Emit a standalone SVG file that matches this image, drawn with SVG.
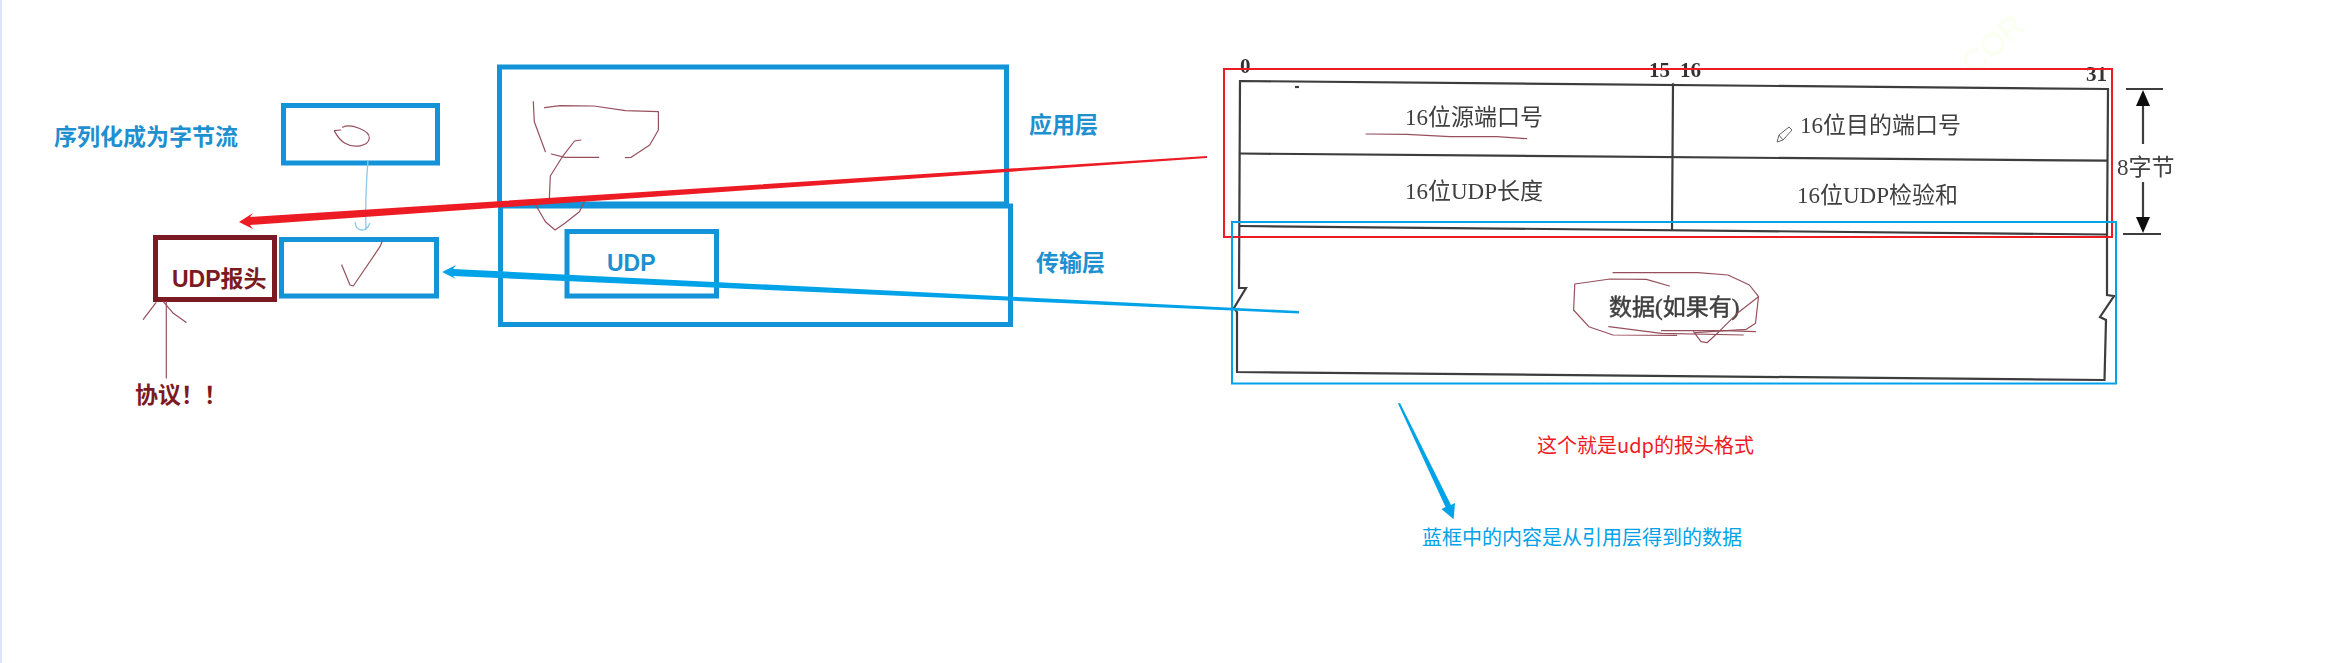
<svg xmlns="http://www.w3.org/2000/svg" width="2337" height="663" viewBox="0 0 2337 663">
<style>
.box{fill:none;stroke:#1394d8;stroke-width:5}
.bl{fill:#1e90d0;font:bold 23px "Liberation Sans","Noto Sans CJK SC",sans-serif}
.dr{fill:#7b1a22;font:bold 23px "Liberation Sans","Noto Sans CJK SC",sans-serif}
.ink{fill:none;stroke:#96505c;stroke-width:1.2;stroke-linejoin:round;stroke-linecap:round}
.scan{fill:none;stroke:#3c3c3c;stroke-width:2.2}
.st{fill:#3f3f3f;font:23px "Liberation Serif","Noto Sans CJK SC",serif}
.sb{fill:#333;font:bold 21px "Liberation Serif",serif}
.note{font:20px "Noto Sans CJK SC",sans-serif}
</style>
<defs><filter id="soft" x="-5%" y="-5%" width="110%" height="110%"><feGaussianBlur stdDeviation="0.5"/></filter></defs>
<rect width="2337" height="663" fill="#ffffff"/>
<rect width="2" height="663" fill="#dfe6f5"/>
<text x="1974" y="76" transform="rotate(-42 1974 76)" font-family="Liberation Sans,sans-serif" font-size="32" fill="#fbfff0">COR</text>

<g id="scan-table" filter="url(#soft)">
<path class="scan" d="M1240,81 L2108,89 L2107,237 L2107,295 L2114,296 L2100,317 L2106,320 L2104.5,380 L1237,372 L1237,312 L1234,308 L1246,288 L1239,288 Z"/>
<path class="scan" d="M1240,153.5 L2107,160.7 M1239,226 L2107,234.5 M1673,83.3 L1672,230"/>
<path class="scan" d="M1295,87 h4"/>
<text class="sb" x="1240" y="73">0</text>
<text class="sb" x="1649" y="77">15</text>
<text class="sb" x="1680" y="77">16</text>
<text class="sb" x="2086" y="81">31</text>
<text class="st" x="1405" y="125">16位源端口号</text>
<text class="st" x="1800" y="133">16位目的端口号</text>
<text class="st" x="1405" y="199">16位UDP长度</text>
<text class="st" x="1797" y="203">16位UDP检验和</text>
<text class="st" x="1609" y="315" stroke="#3f3f3f" stroke-width="0.5">数据(如果有)</text>
<text class="st" x="2117" y="175" font-size="22">8字节</text>
<path class="scan" d="M2126,89 H2163 M2143,106 V144 M2143,182 V217 M2123,234 H2161"/>
<path d="M2143,90 L2150,106 H2136 Z M2143,233 L2150,217 H2136 Z" fill="#111"/>
<path d="M1777,142 L1779,135 L1789,127 L1792,130 L1783,140 Z M1779,135 L1783,140" fill="none" stroke="#666" stroke-width="1"/>
</g>

<g id="node-app-layer">
<rect class="box" x="499.5" y="67" width="507" height="137"/>
<text class="bl" x="1029" y="133">应用层</text>
</g>
<g id="node-transport-layer">
<rect class="box" x="500.5" y="206" width="510" height="118.5"/>
<text class="bl" x="1036" y="271">传输层</text>
</g>
<g id="node-udp">
<rect class="box" x="567" y="231.5" width="149.5" height="64.5" stroke-width="4"/>
<text class="bl" x="607" y="271" font-size="24">UDP</text>
</g>
<g id="node-serial-label">
<text class="bl" x="54" y="145">序列化成为字节流</text>
</g>
<g id="node-data-top">
<rect class="box" x="283.5" y="105.5" width="154" height="57.5"/>
</g>
<g id="node-data-bottom">
<rect class="box" x="281.5" y="239.5" width="155" height="56.5"/>
</g>
<g id="node-udp-header">
<rect x="155.5" y="237.5" width="119" height="62" fill="none" stroke="#7b1a22" stroke-width="5"/>
<text class="dr" x="172" y="287">UDP报头</text>
</g>
<g id="node-protocol">
<text class="dr" x="135" y="403" font-size="22">协议！！</text>
</g>
<g id="node-red-frame">
<rect x="1224" y="69" width="888" height="168" fill="none" stroke="#ed1c24" stroke-width="2"/>
</g>
<g id="node-blue-frame">
<rect x="1232" y="222" width="884" height="161.5" fill="none" stroke="#00a2e8" stroke-width="2"/>
</g>
<g id="node-red-note">
<text class="note" x="1537" y="453" fill="#ed1c24">这个就是udp的报头格式</text>
</g>
<g id="node-blue-note">
<text class="note" x="1422" y="545" fill="#00a2e8">蓝框中的内容是从引用层得到的数据</text>
</g>

<g id="ink-sketches">
<path class="ink" d="M342.7,127.3 C350,123.3 370,130 369.3,138.3 C368.3,146.7 353.3,148.3 345,143.3 C338.3,139.3 336.7,135 334.3,130.7 L340.7,130"/>
<path class="ink" d="M382,241.7 L380,246.7 L353.3,286 L350,285 L341.7,265"/>
<path class="ink" d="M533.3,101.7 L534.3,121.7 L545.4,151.7"/>
<path class="ink" d="M544.5,107.7 L560,105.7 L593.9,106 L625.4,110.7 L658.4,111.7 L658.4,130 L649.7,145 L631.2,157.3 L625.4,157.7"/>
<path class="ink" d="M551.3,154 L564.8,157.3 L598.8,157.3"/>
<path class="ink" d="M580.8,140 L574.5,141 L562.4,156.7 L550.3,176 L549.3,200"/>
<path class="ink" d="M535.7,205 L545.4,221.7 L555.1,230 L564.8,223.3 L579.4,211.7 L584.2,201.7"/>
<path class="ink" d="M1366,134 L1406.7,134.3 L1450,136.7 L1496.7,136.7 L1526.7,138.7"/>
<path class="ink" d="M1669.4,286 L1646.4,279.3 L1610,279 L1574.8,284 L1573.6,310 L1588.8,326.7 L1613,335 L1676.7,335.3"/>
<path class="ink" d="M1613,272.7 L1697.9,272.7 L1728,275 L1749.4,285 L1758.5,296.7 L1755.5,323.3 L1746.4,329.3 L1694.8,332.7"/>
<path class="ink" d="M1758.5,296.7 L1737.3,313.3 L1719,331.7 L1707,342.7 L1701,341.7 L1693.6,331.7"/>
<path class="ink" d="M1608.8,326.7 L1661.5,333.3 L1743.3,335"/>
<path class="ink" stroke-width="2" d="M1661.5,330.7 L1725,330.7 L1755.5,331.7"/>
</g>

<g id="connectors">
<path d="M368,160 C366,185 365,205 366,230 M355,222 C356,232 366,233 370,223" fill="none" stroke="#8fc8e6" stroke-width="1.3"/>
<path class="ink" d="M166.3,378 V301.7 M143.3,319.3 L156,302.7 M163.3,301.7 L173.3,313.3 L186,322.3"/>
<polygon points="239,222 253,213 250,217 1207,156 1207,158 250,225 253,229" fill="#ed1c24"/>
<polygon points="442,272 456,265 453,269 1299,311 1299,313.5 453,276 456,279" fill="#00a2e8"/>
<polygon points="1398,403.5 1400,403 1451,505 1455,503 1453.6,519.3 1441.5,509 1445.5,507" fill="#00a2e8"/>
</g>
</svg>
